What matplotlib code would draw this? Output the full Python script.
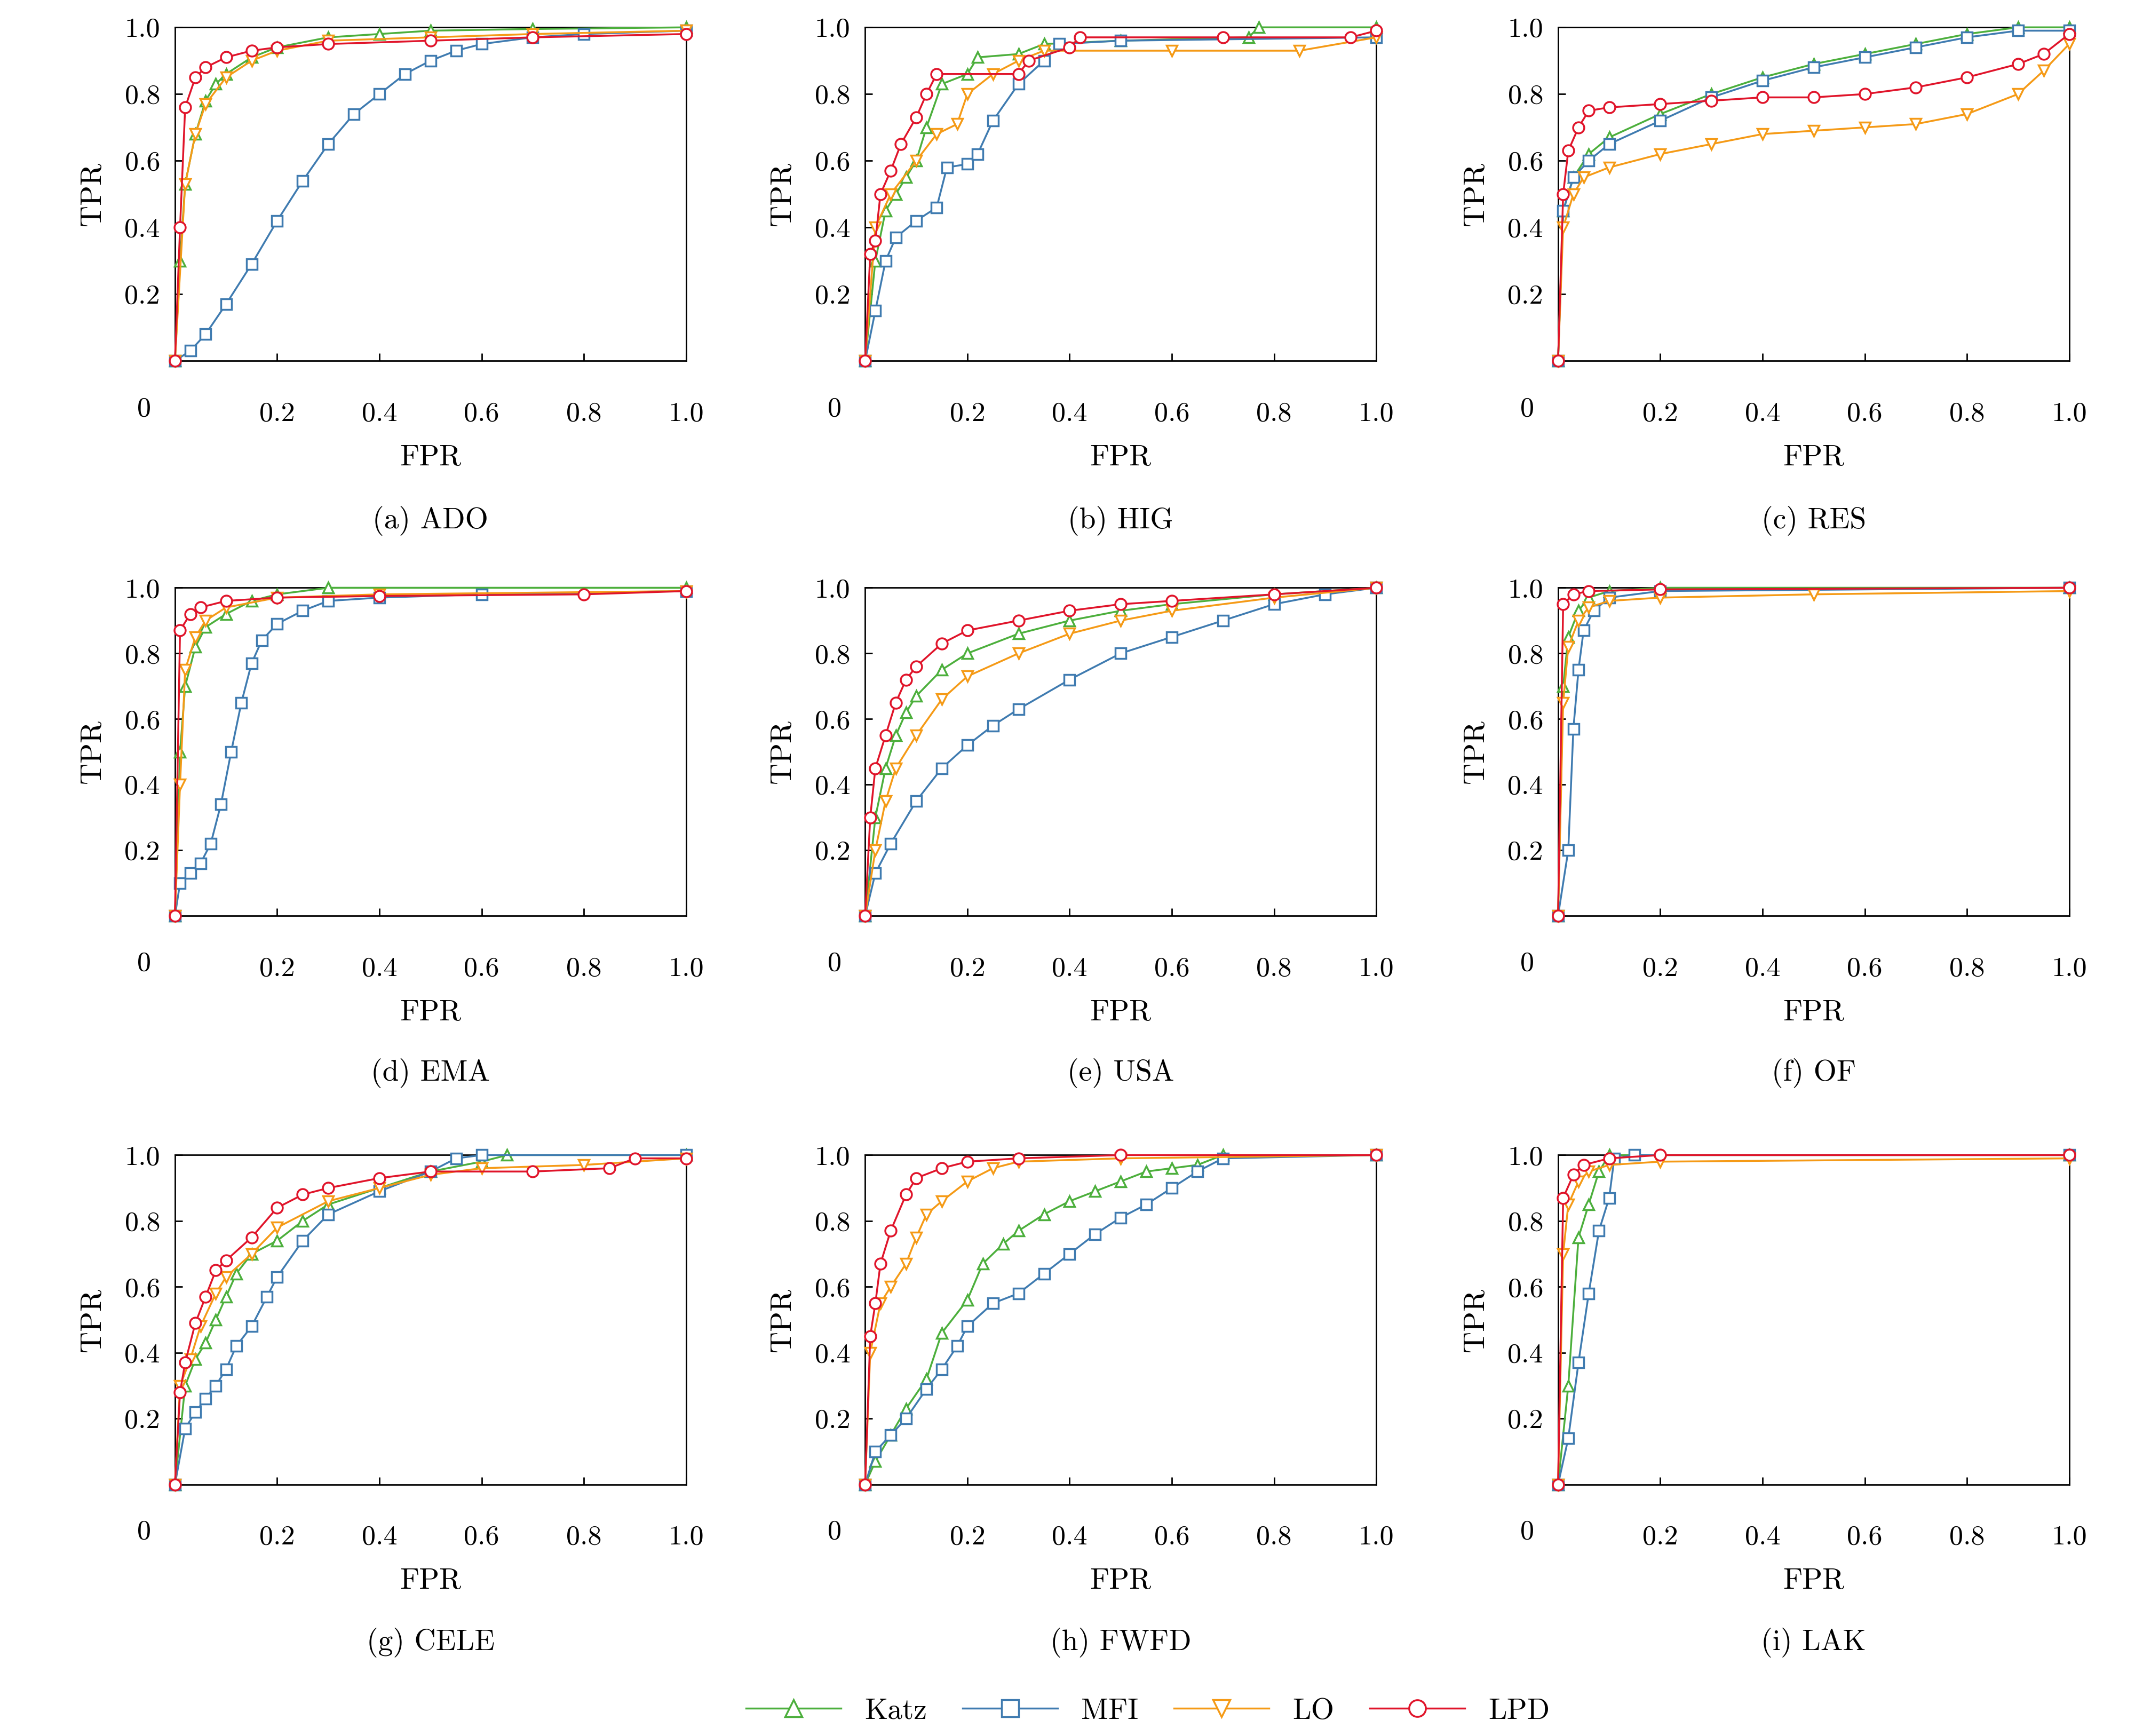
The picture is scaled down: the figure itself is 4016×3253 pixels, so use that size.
import matplotlib
matplotlib.use("Agg")
import matplotlib.pyplot as plt
from matplotlib.lines import Line2D

plt.rcParams['font.family'] = ['cmr10', 'DejaVu Serif']
plt.rcParams['axes.formatter.use_mathtext'] = True

methods = ["Katz", "MFI", "LO", "LPD"]
colors = {"Katz": "#4caf3c", "MFI": "#3f7bb0", "LO": "#f59a16", "LPD": "#e0142a"}
markers = {"Katz": "^", "MFI": "s", "LO": "v", "LPD": "o"}

titles = ["(a) ADO", "(b) HIG", "(c) RES", "(d) EMA", "(e) USA", "(f) OF",
          "(g) CELE", "(h) FWFD", "(i) LAK"]

# ROC points per panel: {method: (fpr list, tpr list)}
ado = {
    "Katz": ([0, .01, .02, .04, .06, .08, .1, .15, .2, .3, .4, .5, .7, 1],
             [0, .3, .53, .68, .78, .83, .86, .91, .94, .97, .98, .99, .995, 1]),
    "MFI": ([0, .03, .06, .1, .15, .2, .25, .3, .35, .4, .45, .5, .55, .6, .7, .8, 1],
            [0, .03, .08, .17, .29, .42, .54, .65, .74, .8, .86, .9, .93, .95, .97, .98, .99]),
    "LO": ([0, .02, .04, .06, .1, .15, .2, .3, .5, .7, 1],
           [0, .53, .68, .77, .85, .9, .93, .96, .97, .98, .99]),
    "LPD": ([0, .01, .02, .04, .06, .1, .15, .2, .3, .5, .7, 1],
            [0, .4, .76, .85, .88, .91, .93, .94, .95, .96, .97, .98]),
}
hig = {
    "Katz": ([0, .02, .04, .06, .08, .1, .12, .15, .2, .22, .3, .35, .5, .75, .77, 1],
             [0, .3, .45, .5, .55, .6, .7, .83, .86, .91, .92, .95, .96, .97, 1, 1]),
    "MFI": ([0, .02, .04, .06, .1, .14, .16, .2, .22, .25, .3, .35, .38, .5, 1],
            [0, .15, .3, .37, .42, .46, .58, .59, .62, .72, .83, .9, .95, .96, .97]),
    "LO": ([0, .02, .05, .1, .14, .18, .2, .25, .3, .35, .6, .85, 1],
           [0, .4, .5, .6, .68, .71, .8, .86, .9, .93, .93, .93, .97]),
    "LPD": ([0, .01, .02, .03, .05, .07, .1, .12, .14, .3, .32, .4, .42, .7, .95, 1],
            [0, .32, .36, .5, .57, .65, .73, .8, .86, .86, .9, .94, .97, .97, .97, .99]),
}
res = {
    "Katz": ([0, .01, .03, .06, .1, .2, .3, .4, .5, .6, .7, .8, .9, 1],
             [0, .45, .55, .62, .67, .74, .8, .85, .89, .92, .95, .98, 1, 1]),
    "MFI": ([0, .01, .03, .06, .1, .2, .3, .4, .5, .6, .7, .8, .9, 1],
            [0, .45, .55, .6, .65, .72, .79, .84, .88, .91, .94, .97, .99, .99]),
    "LO": ([0, .01, .03, .05, .1, .2, .3, .4, .5, .6, .7, .8, .9, .95, 1],
           [0, .4, .5, .55, .58, .62, .65, .68, .69, .7, .71, .74, .8, .87, .95]),
    "LPD": ([0, .01, .02, .04, .06, .1, .2, .3, .4, .5, .6, .7, .8, .9, .95, 1],
            [0, .5, .63, .7, .75, .76, .77, .78, .79, .79, .8, .82, .85, .89, .92, .98]),
}
ema = {
    "Katz": ([0, .01, .02, .04, .06, .1, .15, .2, .3, 1],
             [0, .5, .7, .82, .88, .92, .96, .98, 1, 1]),
    "MFI": ([0, .01, .03, .05, .07, .09, .11, .13, .15, .17, .2, .25, .3, .4, .6, 1],
            [0, .1, .13, .16, .22, .34, .5, .65, .77, .84, .89, .93, .96, .97, .98, .99]),
    "LO": ([0, .01, .02, .04, .06, .1, .2, .4, 1],
           [0, .4, .75, .85, .9, .94, .97, .98, .99]),
    "LPD": ([0, .01, .03, .05, .1, .2, .4, .8, 1],
            [0, .87, .92, .94, .96, .97, .975, .98, .99]),
}
usa = {
    "Katz": ([0, .02, .04, .06, .08, .1, .15, .2, .3, .4, .5, .6, .8, 1],
             [0, .3, .45, .55, .62, .67, .75, .8, .86, .9, .93, .95, .98, 1]),
    "MFI": ([0, .02, .05, .1, .15, .2, .25, .3, .4, .5, .6, .7, .8, .9, 1],
            [0, .13, .22, .35, .45, .52, .58, .63, .72, .8, .85, .9, .95, .98, 1]),
    "LO": ([0, .02, .04, .06, .1, .15, .2, .3, .4, .5, .6, .8, 1],
           [0, .2, .35, .45, .55, .66, .73, .8, .86, .9, .93, .97, 1]),
    "LPD": ([0, .01, .02, .04, .06, .08, .1, .15, .2, .3, .4, .5, .6, .8, 1],
            [0, .3, .45, .55, .65, .72, .76, .83, .87, .9, .93, .95, .96, .98, 1]),
}
of = {
    "Katz": ([0, .01, .02, .04, .06, .1, .2, 1], [0, .7, .85, .93, .97, .99, 1, 1]),
    "MFI": ([0, .02, .03, .04, .05, .07, .1, .2, 1], [0, .2, .57, .75, .87, .93, .97, .99, 1]),
    "LO": ([0, .01, .02, .04, .06, .1, .2, .5, 1], [0, .65, .82, .9, .94, .96, .97, .98, .99]),
    "LPD": ([0, .01, .03, .06, .2, 1], [0, .95, .98, .99, .995, 1]),
}
cele = {
    "Katz": ([0, .02, .04, .06, .08, .1, .12, .15, .2, .25, .3, .4, .5, .6, .65, 1],
             [0, .3, .38, .43, .5, .57, .64, .7, .74, .8, .85, .9, .95, .98, 1, 1]),
    "MFI": ([0, .02, .04, .06, .08, .1, .12, .15, .18, .2, .25, .3, .4, .5, .55, .6, 1],
            [0, .17, .22, .26, .3, .35, .42, .48, .57, .63, .74, .82, .89, .95, .99, 1, 1]),
    "LO": ([0, .01, .03, .05, .08, .1, .15, .2, .3, .4, .5, .6, .8, 1],
           [0, .3, .38, .48, .58, .63, .7, .78, .86, .9, .94, .96, .97, .99]),
    "LPD": ([0, .01, .02, .04, .06, .08, .1, .15, .2, .25, .3, .4, .5, .7, .85, .9, 1],
            [0, .28, .37, .49, .57, .65, .68, .75, .84, .88, .9, .93, .95, .95, .96, .99, .99]),
}
fwfd = {
    "Katz": ([0, .02, .05, .08, .12, .15, .2, .23, .27, .3, .35, .4, .45, .5, .55, .6, .65, .7, 1],
             [0, .07, .15, .23, .32, .46, .56, .67, .73, .77, .82, .86, .89, .92, .95, .96, .97, 1, 1]),
    "MFI": ([0, .02, .05, .08, .12, .15, .18, .2, .25, .3, .35, .4, .45, .5, .55, .6, .65, .7, 1],
            [0, .1, .15, .2, .29, .35, .42, .48, .55, .58, .64, .7, .76, .81, .85, .9, .95, .99, 1]),
    "LO": ([0, .01, .03, .05, .08, .1, .12, .15, .2, .25, .3, .5, 1],
           [0, .4, .55, .6, .67, .75, .82, .86, .92, .96, .98, .99, 1]),
    "LPD": ([0, .01, .02, .03, .05, .08, .1, .15, .2, .3, .5, 1],
            [0, .45, .55, .67, .77, .88, .93, .96, .98, .99, 1, 1]),
}
lak = {
    "Katz": ([0, .02, .04, .06, .08, .1, 1], [0, .3, .75, .85, .95, 1, 1]),
    "MFI": ([0, .02, .04, .06, .08, .1, .11, .15, 1], [0, .14, .37, .58, .77, .87, .99, 1, 1]),
    "LO": ([0, .01, .02, .04, .06, .1, .2, 1], [0, .7, .85, .92, .95, .97, .98, .99]),
    "LPD": ([0, .01, .03, .05, .1, .2, 1], [0, .87, .94, .97, .99, 1, 1]),
}
panels = [ado, hig, res, ema, usa, of, cele, fwfd, lak]

W, H = 1568.0, 1270.0
fig = plt.figure(figsize=(16.064, 13.012), dpi=250)
lefts = [128, 633, 1140]
rows = [(20, 264), (430, 670), (845, 1086)]

for i, data in enumerate(panels):
    r, c = divmod(i, 3)
    top, bot = rows[r]
    ax = fig.add_axes([lefts[c] / W, 1 - bot / H, 374 / W, (bot - top) / H])
    for m in methods:
        x, y = data[m]
        ax.plot(x, y, color=colors[m], lw=1.0, marker=markers[m], ms=6,
                mfc="white", mew=1.0, clip_on=False, zorder=3)
    ax.set_xlim(0, 1)
    ax.set_ylim(0, 1)
    ax.set_xticks([0.2, 0.4, 0.6, 0.8, 1.0])
    ax.set_xticklabels(["0.2", "0.4", "0.6", "0.8", "1.0"])
    ax.set_yticks([0.2, 0.4, 0.6, 0.8, 1.0])
    ax.set_yticklabels(["0.2", "0.4", "0.6", "0.8", "1.0"])
    ax.tick_params(direction="in", length=4, labelsize=15, pad=8)
    ax.tick_params(axis="x", pad=22)
    ax.text(-0.06, -0.145, "0", transform=ax.transAxes, fontsize=15, ha="center", va="center")
    ax.set_xlabel("FPR", fontsize=16, labelpad=10)
    ax.set_ylabel("TPR", fontsize=16, labelpad=10)
    ax.text(0.5, -0.48, titles[i], transform=ax.transAxes, fontsize=16, ha="center", va="center")

handles = [Line2D([], [], color=colors[m], marker=markers[m], ms=9, mfc="white",
                  mew=1.0, lw=1.0) for m in methods]
fig.legend(handles, methods, loc="center", bbox_to_anchor=(840 / W, 1 - 1252 / H),
           ncol=4, frameon=False, fontsize=16, handlelength=3.2, columnspacing=1.2)

fig.savefig("out.png", dpi=250)
